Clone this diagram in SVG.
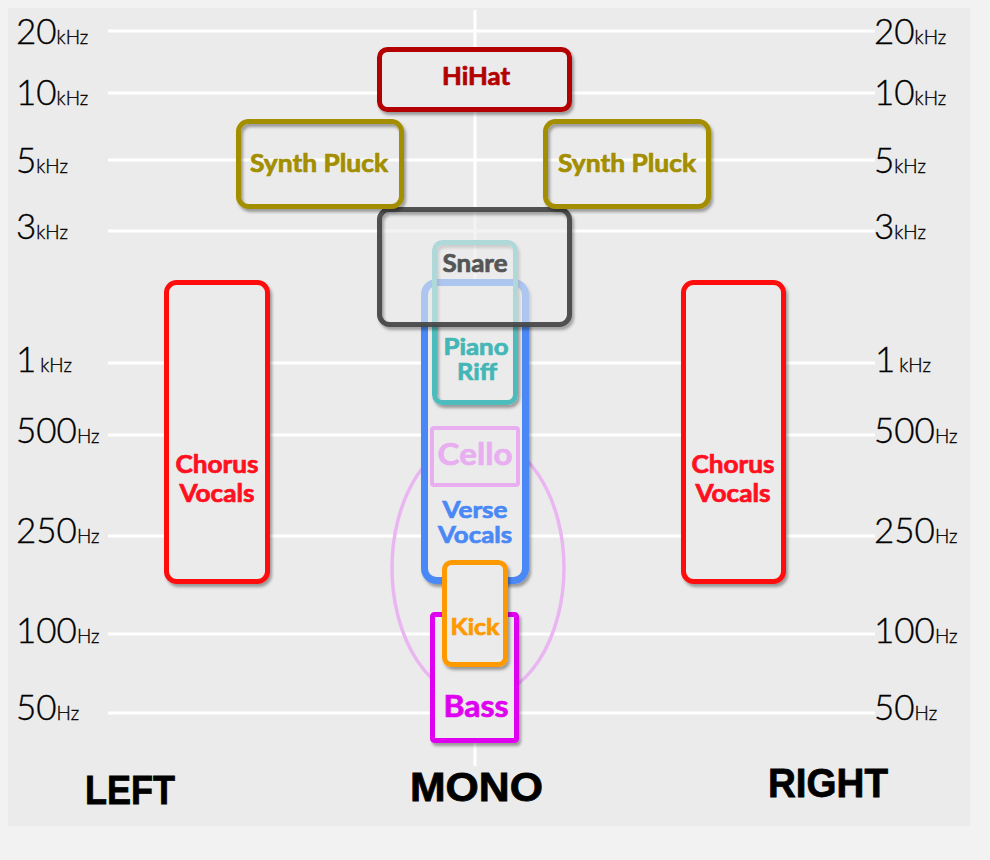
<svg xmlns="http://www.w3.org/2000/svg" width="990" height="860" viewBox="0 0 990 860">
<defs>
<filter id="sh" x="-20%" y="-20%" width="140%" height="140%">
<feDropShadow dx="2" dy="3" stdDeviation="1.8" flood-color="#000" flood-opacity="0.35"/>
</filter>
</defs>
<style>
.grid{stroke:#ffffff;stroke-width:3;}
.ax{font-family:Lato,"Liberation Sans",sans-serif;font-weight:300;fill:#000;stroke:#000;stroke-width:0.35;}
.big{font-size:35px;}
.unit{font-size:19px;}
.box{fill:#ebebeb;filter:url(#sh);}
.lbl{font-family:Lato,"Liberation Sans",sans-serif;font-weight:bold;text-anchor:middle;stroke-width:0.7;}
.side{font-family:"Liberation Sans",Arial,sans-serif;font-weight:bold;font-size:40px;fill:#000;stroke:#000;stroke-width:0.8;}
</style>
<rect x="0" y="0" width="990" height="860" fill="#f2f2f2"/>
<rect x="8" y="8" width="962" height="818" fill="#ebebeb"/>
<g id="grid">
<line class="grid" x1="108" y1="31" x2="875" y2="31"/>
<line class="grid" x1="108" y1="93" x2="875" y2="93"/>
<line class="grid" x1="108" y1="160" x2="875" y2="160"/>
<line class="grid" x1="108" y1="231" x2="875" y2="231"/>
<line class="grid" x1="108" y1="363" x2="875" y2="363"/>
<line class="grid" x1="108" y1="435" x2="875" y2="435"/>
<line class="grid" x1="108" y1="536" x2="875" y2="536"/>
<line class="grid" x1="108" y1="634" x2="875" y2="634"/>
<line class="grid" x1="108" y1="713" x2="875" y2="713"/>
<line class="grid" x1="475" y1="10" x2="475" y2="766"/>
</g>
<g id="axis-left" class="ax">
<text x="16" y="44"><tspan class="big">20</tspan><tspan class="unit">kHz</tspan></text>
<text x="16" y="105"><tspan class="big">10</tspan><tspan class="unit">kHz</tspan></text>
<text x="16" y="173"><tspan class="big">5</tspan><tspan class="unit">kHz</tspan></text>
<text x="16" y="239"><tspan class="big">3</tspan><tspan class="unit">kHz</tspan></text>
<text x="16" y="372"><tspan class="big">1</tspan><tspan class="unit" dx="4">kHz</tspan></text>
<text x="16" y="443"><tspan class="big">500</tspan><tspan class="unit">Hz</tspan></text>
<text x="16" y="543"><tspan class="big">250</tspan><tspan class="unit">Hz</tspan></text>
<text x="16" y="643"><tspan class="big">100</tspan><tspan class="unit">Hz</tspan></text>
<text x="16" y="720"><tspan class="big">50</tspan><tspan class="unit">Hz</tspan></text>
</g>
<g id="axis-right" class="ax">
<text x="874" y="44"><tspan class="big">20</tspan><tspan class="unit">kHz</tspan></text>
<text x="874" y="105"><tspan class="big">10</tspan><tspan class="unit">kHz</tspan></text>
<text x="874" y="173"><tspan class="big">5</tspan><tspan class="unit">kHz</tspan></text>
<text x="874" y="239"><tspan class="big">3</tspan><tspan class="unit">kHz</tspan></text>
<text x="875" y="372"><tspan class="big">1</tspan><tspan class="unit" dx="4">kHz</tspan></text>
<text x="874" y="443"><tspan class="big">500</tspan><tspan class="unit">Hz</tspan></text>
<text x="874" y="543"><tspan class="big">250</tspan><tspan class="unit">Hz</tspan></text>
<text x="874" y="643"><tspan class="big">100</tspan><tspan class="unit">Hz</tspan></text>
<text x="874" y="720"><tspan class="big">50</tspan><tspan class="unit">Hz</tspan></text>
</g>
<g id="connectors"></g>
<g id="cello-range">
<ellipse cx="478" cy="568" rx="86" ry="131" fill="none" stroke="#e9b6f1" stroke-width="3.5"/>
</g>
<g id="chorus-left">
<rect class="box" x="166.5" y="282.5" width="101" height="299" rx="10" stroke="#ff1010" stroke-width="5"/>
<text class="lbl" x="217" y="473" font-size="24" fill="#ff1020" stroke="#ff1020" textLength="83" lengthAdjust="spacingAndGlyphs">Chorus</text>
<text class="lbl" x="217" y="502" font-size="24" fill="#ff1020" stroke="#ff1020" textLength="75" lengthAdjust="spacingAndGlyphs">Vocals</text>
</g>
<g id="chorus-right">
<rect class="box" x="683.5" y="282.5" width="100" height="299" rx="10" stroke="#ff1010" stroke-width="5"/>
<text class="lbl" x="733" y="473" font-size="24" fill="#ff1020" stroke="#ff1020" textLength="83" lengthAdjust="spacingAndGlyphs">Chorus</text>
<text class="lbl" x="733" y="502" font-size="24" fill="#ff1020" stroke="#ff1020" textLength="75" lengthAdjust="spacingAndGlyphs">Vocals</text>
</g>
<g id="verse-vocals">
<rect class="box" x="424.5" y="282.5" width="101" height="298" rx="12" stroke="#4a88f5" stroke-width="7"/>
<text class="lbl" x="475" y="518" font-size="22" fill="#4a88f5" stroke="#4a88f5" textLength="65" lengthAdjust="spacingAndGlyphs">Verse</text>
<text class="lbl" x="475" y="543" font-size="22" fill="#4a88f5" stroke="#4a88f5" textLength="74" lengthAdjust="spacingAndGlyphs">Vocals</text>
</g>
<g id="piano-riff">
<rect x="434.5" y="242.5" width="81" height="160" rx="8" fill="none" stroke="#4dbcbc" stroke-width="5" filter="url(#sh)"/>
<text class="lbl" x="476" y="355" font-size="22" fill="#45b6b6" stroke="#45b6b6" textLength="65" lengthAdjust="spacingAndGlyphs">Piano</text>
<text class="lbl" x="477" y="380" font-size="22" fill="#45b6b6" stroke="#45b6b6" textLength="40" lengthAdjust="spacingAndGlyphs">Riff</text>
</g>
<g id="cello">
<rect x="432" y="428" width="86" height="57" rx="2" fill="none" stroke="#e8aef0" stroke-width="4"/>
<text class="lbl" x="475" y="465" font-size="31" fill="#e8aef0" stroke="#e8aef0" textLength="75" lengthAdjust="spacingAndGlyphs">Cello</text>
</g>
<g id="bass">
<rect class="box" x="432.5" y="614.5" width="84" height="126" rx="2" stroke="#e000f0" stroke-width="5"/>
<text class="lbl" x="476" y="717" font-size="30" fill="#e000f0" stroke="#e000f0" textLength="65" lengthAdjust="spacingAndGlyphs">Bass</text>
</g>
<g id="kick">
<rect class="box" x="444.5" y="562.5" width="61" height="102" rx="7" stroke="#ff9900" stroke-width="5"/>
<text class="lbl" x="475" y="635" font-size="23" fill="#ff9900" stroke="#ff9900" textLength="49" lengthAdjust="spacingAndGlyphs">Kick</text>
</g>
<g id="snare">
<rect x="379.5" y="209.5" width="190" height="115" rx="10" fill="#ebebeb" fill-opacity="0.62" stroke="none"/>
<rect x="379.5" y="209.5" width="190" height="115" rx="10" fill="none" stroke="#444444" stroke-opacity="0.92" stroke-width="5" filter="url(#sh)"/>
<text class="lbl" x="475" y="272" font-size="24" fill="#555555" stroke="#555555" textLength="65" lengthAdjust="spacingAndGlyphs">Snare</text>
</g>
<g id="hihat">
<rect class="box" x="379.5" y="49.5" width="190" height="60" rx="8" stroke="#b30000" stroke-width="5"/>
<text class="lbl" x="476" y="85" font-size="24" fill="#b30000" stroke="#b30000" textLength="68" lengthAdjust="spacingAndGlyphs">HiHat</text>
</g>
<g id="synth-pluck-left">
<rect x="238.5" y="121.5" width="163" height="85" rx="10" fill="none" stroke="#a38e00" stroke-width="5" filter="url(#sh)"/>
<text class="lbl" x="319" y="172" font-size="24" fill="#a38e00" stroke="#a38e00" textLength="138" lengthAdjust="spacingAndGlyphs">Synth Pluck</text>
</g>
<g id="synth-pluck-right">
<rect x="545.5" y="121.5" width="163" height="85" rx="10" fill="none" stroke="#a38e00" stroke-width="5" filter="url(#sh)"/>
<text class="lbl" x="627" y="172" font-size="24" fill="#a38e00" stroke="#a38e00" textLength="138" lengthAdjust="spacingAndGlyphs">Synth Pluck</text>
</g>
<g id="channels">
<text class="side" x="85" y="804" textLength="90" lengthAdjust="spacingAndGlyphs">LEFT</text>
<text class="side" x="410" y="801" textLength="133" lengthAdjust="spacingAndGlyphs">MONO</text>
<text class="side" x="768" y="797" textLength="120" lengthAdjust="spacingAndGlyphs">RIGHT</text>
</g>
</svg>
